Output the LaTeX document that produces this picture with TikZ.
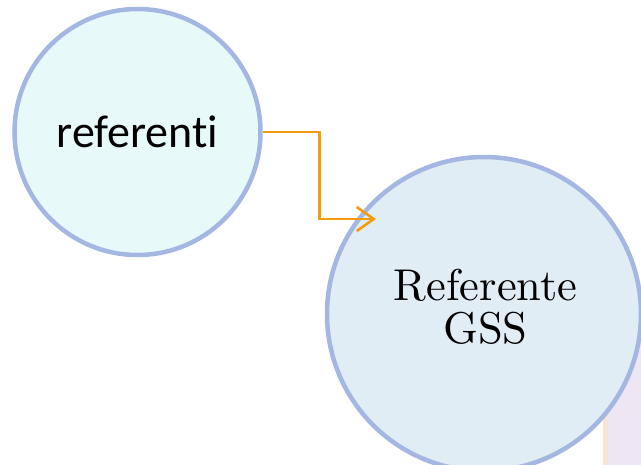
\documentclass[tikz,border=0pt]{standalone}
\usepackage{fontspec}
\newfontfamily\calib[Ligatures={NoCommon}]{Carlito}
\usetikzlibrary{arrows.meta}
\definecolor{ringblue}{HTML}{A4B6E2}
\definecolor{fillone}{HTML}{E8F9FA}
\definecolor{filltwo}{HTML}{E0EDF4}
\definecolor{connorange}{HTML}{F29B0B}
\definecolor{lavender}{HTML}{EEE6F3}
\definecolor{peach}{HTML}{F8E2D2}
\tikzset{
  ring/.style={circle, draw=ringblue, line width=4.5pt, inner sep=0pt},
  conn/.style={draw=connorange, line width=2.6pt, -{Straight Barb[length=17pt,width=24pt]}},
}
\begin{document}
\begin{tikzpicture}[x=1pt,y=1pt]
\useasboundingbox (0,0) rectangle (641,-465);
\fill[lavender] (606,-330) rectangle (645,-470);
\draw[peach, line width=5pt] (605.5,-330) -- (605.5,-470);
\node[ring, fill=fillone, minimum size=246pt, font=\calib\fontsize{46}{54}\selectfont] (c1) at (137.5,-132) {referenti};
\node[ring, fill=filltwo, minimum size=314pt] (c2) at (484,-314) {};
\node[align=center, font=\fontsize{10}{9.7}\selectfont, inner sep=0pt, scale=4.45, transform shape] (t2) at (485.5,-307) {Referente\\GSS};
\coordinate (tip) at (376,-219);
\draw[conn] (c1.east) -- ++(57,0) |- (tip);
\end{tikzpicture}
\end{document}
